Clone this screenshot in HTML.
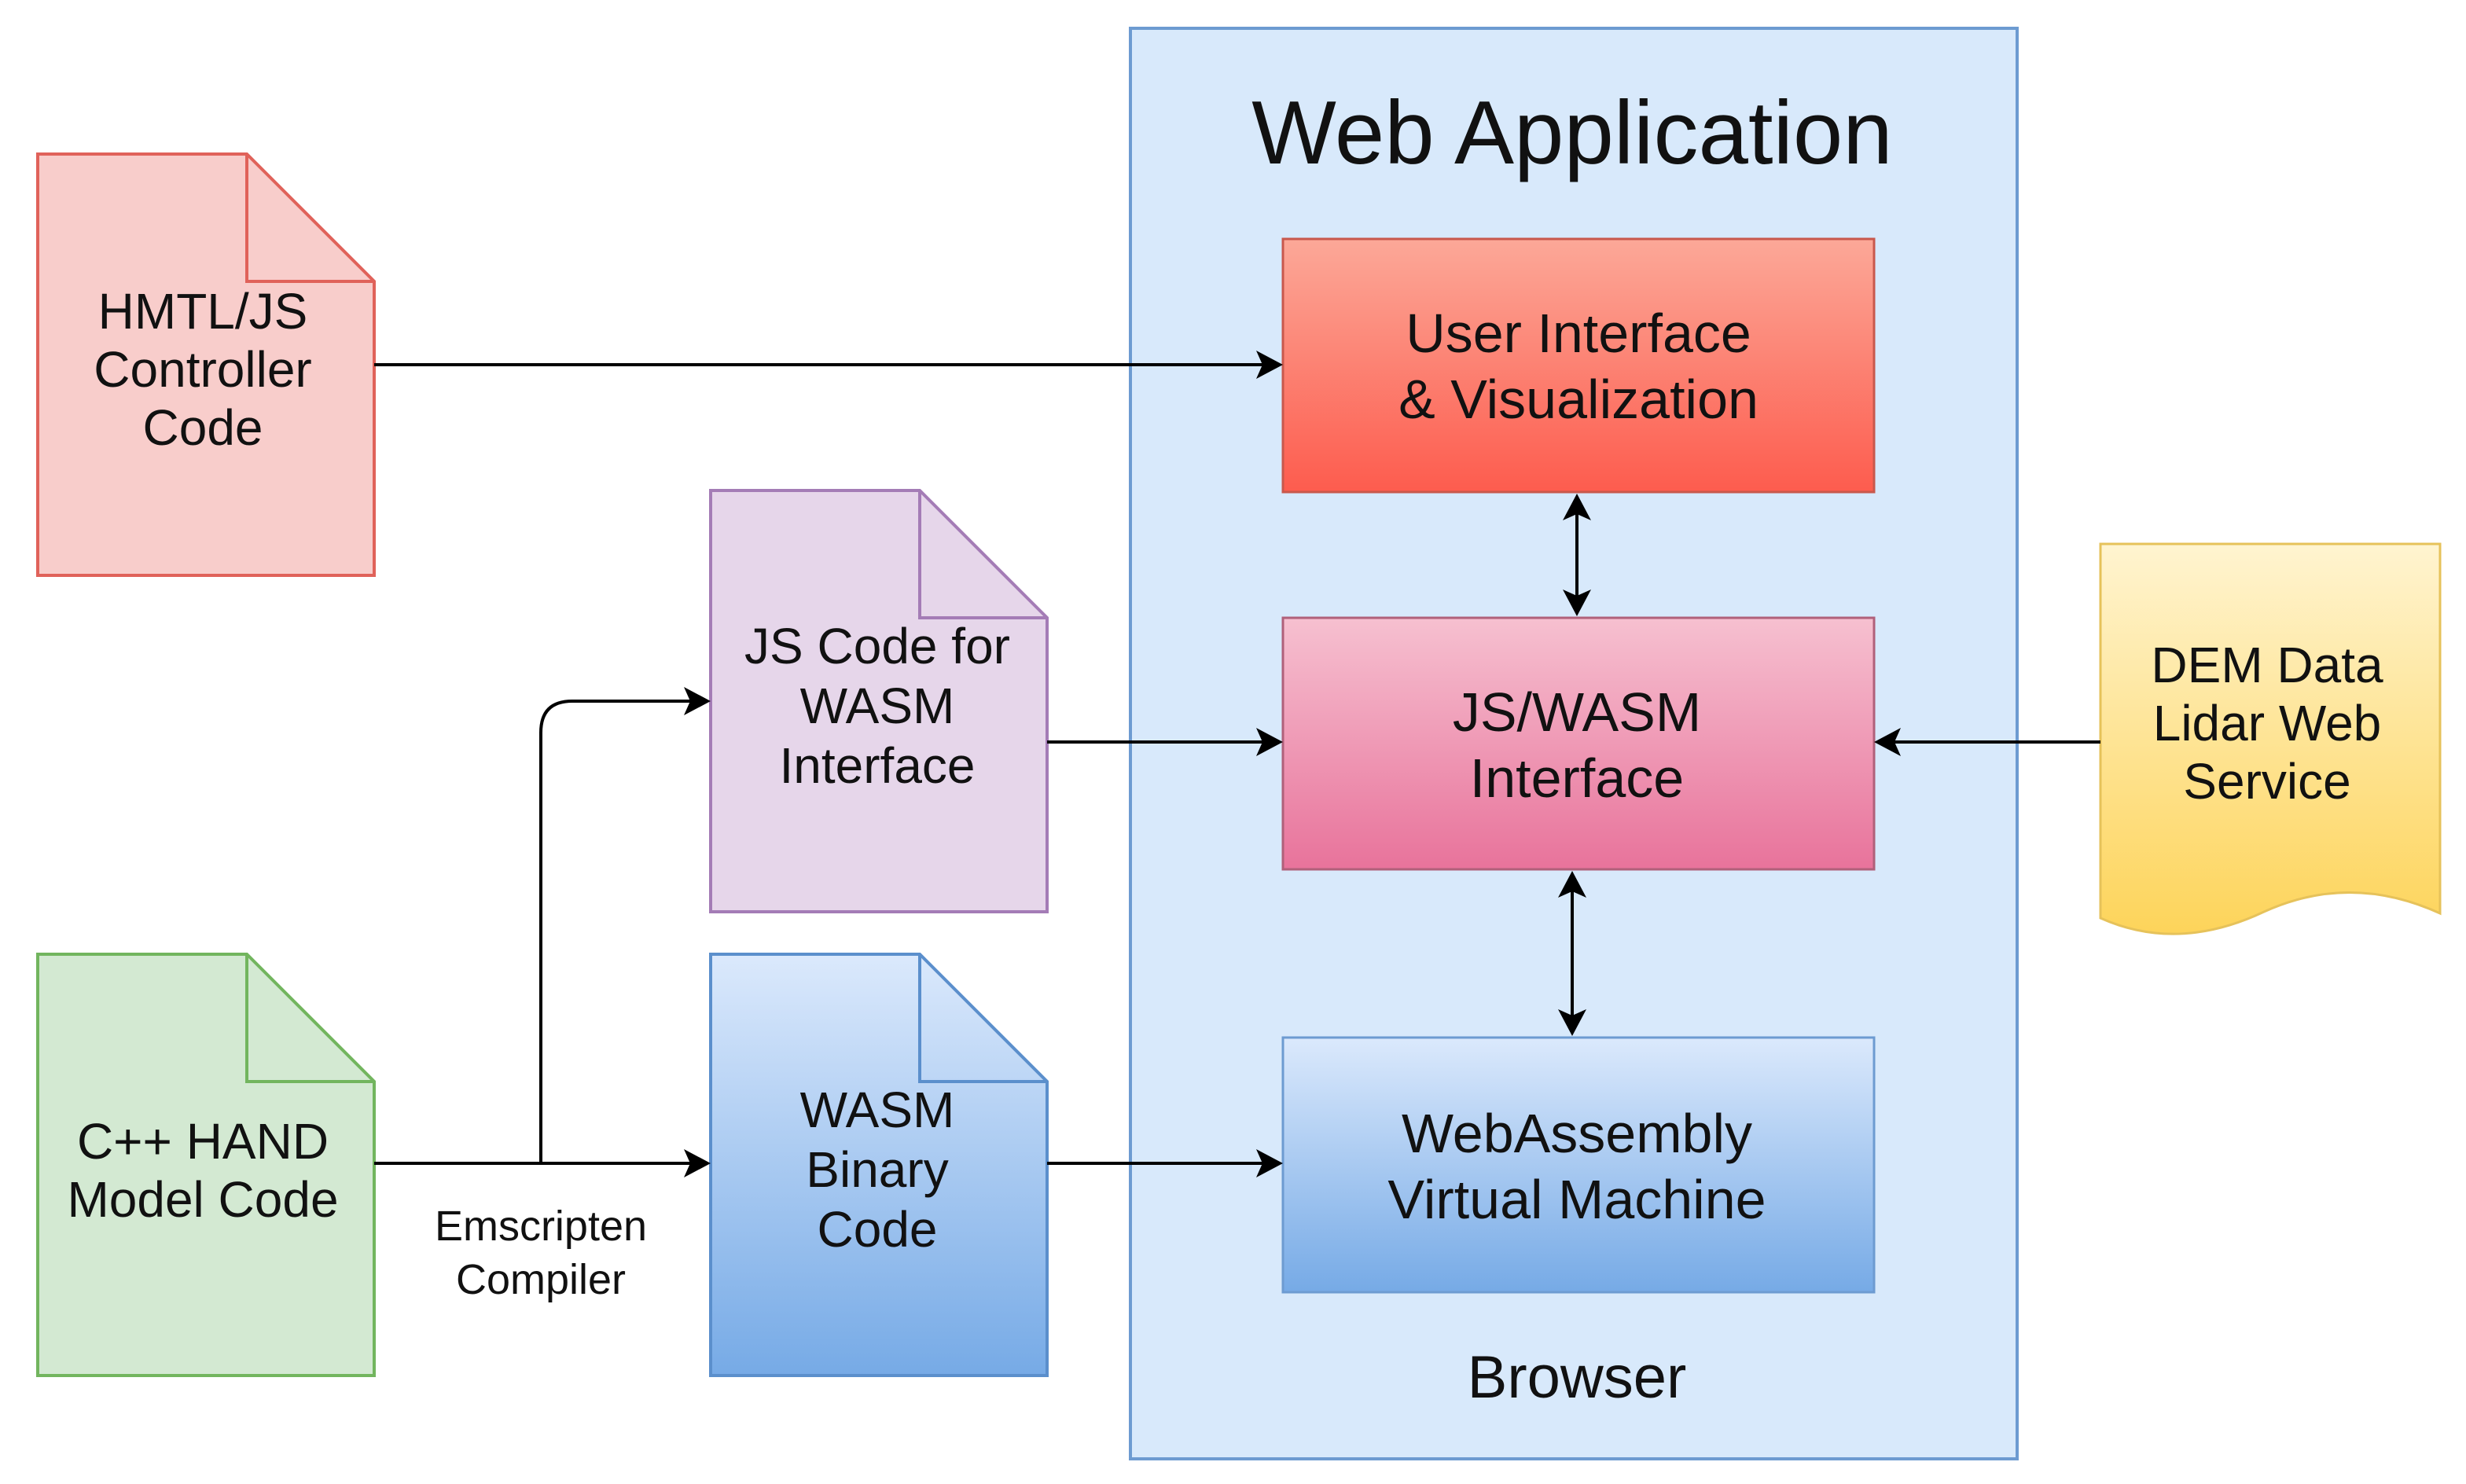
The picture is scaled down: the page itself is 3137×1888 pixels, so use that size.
<!DOCTYPE html>
<html><head><meta charset="utf-8"><style>
html,body{margin:0;padding:0;background:#fff}
svg{display:block}
text{font-family:"Liberation Sans","DejaVu Sans",sans-serif;fill:#111}
</style></head><body>
<svg width="3137" height="1888" viewBox="0 0 3137 1888" xmlns="http://www.w3.org/2000/svg">
<defs>
<linearGradient id="gRed" x1="0" y1="0" x2="0" y2="1"><stop offset="0" stop-color="#fca898"/><stop offset="1" stop-color="#fd5c4e"/></linearGradient>
<linearGradient id="gPink" x1="0" y1="0" x2="0" y2="1"><stop offset="0" stop-color="#f6c0d0"/><stop offset="1" stop-color="#e8739b"/></linearGradient>
<linearGradient id="gBlue" x1="0" y1="0" x2="0" y2="1"><stop offset="0" stop-color="#dbe9fc"/><stop offset="1" stop-color="#76aae6"/></linearGradient>
<linearGradient id="gYel" x1="0" y1="0" x2="0" y2="1"><stop offset="0" stop-color="#fff4d0"/><stop offset="1" stop-color="#fdd45a"/></linearGradient>
</defs>

<rect x="1438" y="36" width="1128" height="1820" fill="#d8e9fb" stroke="#6d9bd1" stroke-width="4"/>
<text x="2000" y="208" font-size="114" text-anchor="middle">Web Application</text>
<text x="2006" y="1778" font-size="76" text-anchor="middle">Browser</text>

<rect x="1632" y="304" width="752" height="322" fill="url(#gRed)" stroke="#c8584c" stroke-width="3"/>
<text x="2008" y="448" font-size="70" text-anchor="middle">User Interface</text>
<text x="2008" y="532" font-size="70" text-anchor="middle">&amp; Visualization</text>

<rect x="1632" y="786" width="752" height="320" fill="url(#gPink)" stroke="#b0607a" stroke-width="3"/>
<text x="2006" y="930" font-size="70" text-anchor="middle">JS/WASM</text>
<text x="2006" y="1014" font-size="70" text-anchor="middle">Interface</text>

<rect x="1632" y="1320" width="752" height="324" fill="url(#gBlue)" stroke="#6d9bd1" stroke-width="3"/>
<text x="2006" y="1466" font-size="70" text-anchor="middle">WebAssembly</text>
<text x="2006" y="1550" font-size="70" text-anchor="middle">Virtual Machine</text>

<path d="M48 196 H314 L476 358 V732 H48 Z" fill="#f8cdcb" stroke="#e0625a" stroke-width="4"/>
<path d="M314 196 V358 H476" fill="none" stroke="#e0625a" stroke-width="4"/>
<text x="258" y="418" font-size="64" text-anchor="middle">HMTL/JS</text>
<text x="258" y="492" font-size="64" text-anchor="middle">Controller</text>
<text x="258" y="566" font-size="64" text-anchor="middle">Code</text>

<path d="M904 624 H1170 L1332 786 V1160 H904 Z" fill="#e6d6ea" stroke="#a47cb6" stroke-width="4"/>
<path d="M1170 624 V786 H1332" fill="none" stroke="#a47cb6" stroke-width="4"/>
<text x="1116" y="844" font-size="64" text-anchor="middle">JS Code for</text>
<text x="1116" y="920" font-size="64" text-anchor="middle">WASM</text>
<text x="1116" y="996" font-size="64" text-anchor="middle">Interface</text>

<path d="M48 1214 H314 L476 1376 V1750 H48 Z" fill="#d3e9d2" stroke="#72b55e" stroke-width="4"/>
<path d="M314 1214 V1376 H476" fill="none" stroke="#72b55e" stroke-width="4"/>
<text x="258" y="1474" font-size="64" text-anchor="middle">C++ HAND</text>
<text x="258" y="1548" font-size="64" text-anchor="middle">Model Code</text>

<path d="M904 1214 H1170 L1332 1376 V1750 H904 Z" fill="url(#gBlue)" stroke="#5b8fcc" stroke-width="4"/>
<path d="M1170 1214 V1376 H1332" fill="none" stroke="#5b8fcc" stroke-width="4"/>
<text x="1116" y="1434" font-size="64" text-anchor="middle">WASM</text>
<text x="1116" y="1510" font-size="64" text-anchor="middle">Binary</text>
<text x="1116" y="1586" font-size="64" text-anchor="middle">Code</text>

<path d="M2672 692 H3104 V1162 Q2990 1110 2880 1160 Q2770 1212 2672 1168 Z" fill="url(#gYel)" stroke="#e6c25a" stroke-width="3"/>
<text x="2884" y="868" font-size="64" text-anchor="middle">DEM Data</text>
<text x="2884" y="942" font-size="64" text-anchor="middle">Lidar Web</text>
<text x="2884" y="1016" font-size="64" text-anchor="middle">Service</text>

<text x="688" y="1578" font-size="54" text-anchor="middle">Emscripten</text>
<text x="688" y="1646" font-size="54" text-anchor="middle">Compiler</text>

<g stroke="#000" stroke-width="4" fill="none">
<line x1="476" y1="464" x2="1610" y2="464"/>
<line x1="1332" y1="944" x2="1610" y2="944"/>
<line x1="2672" y1="944" x2="2406" y2="944"/>
<line x1="476" y1="1480" x2="882" y2="1480"/>
<path d="M688 1480 V932 Q688 892 728 892 H882"/>
<line x1="1332" y1="1480" x2="1610" y2="1480"/>
<line x1="2006" y1="650" x2="2006" y2="762"/>
<line x1="2000" y1="1130" x2="2000" y2="1296"/>
</g>
<g fill="#000">
<polygon points="1632,464 1598,446 1606,464 1598,482"/>
<polygon points="1632,944 1598,926 1606,944 1598,962"/>
<polygon points="2384,944 2418,926 2410,944 2418,962"/>
<polygon points="904,1480 870,1462 878,1480 870,1498"/>
<polygon points="904,892 870,874 878,892 870,910"/>
<polygon points="1632,1480 1598,1462 1606,1480 1598,1498"/>
<polygon points="2006,628 1988,662 2006,654 2024,662"/>
<polygon points="2006,784 1988,750 2006,758 2024,750"/>
<polygon points="2000,1108 1982,1142 2000,1134 2018,1142"/>
<polygon points="2000,1318 1982,1284 2000,1292 2018,1284"/>
</g>
</svg>
</body></html>
